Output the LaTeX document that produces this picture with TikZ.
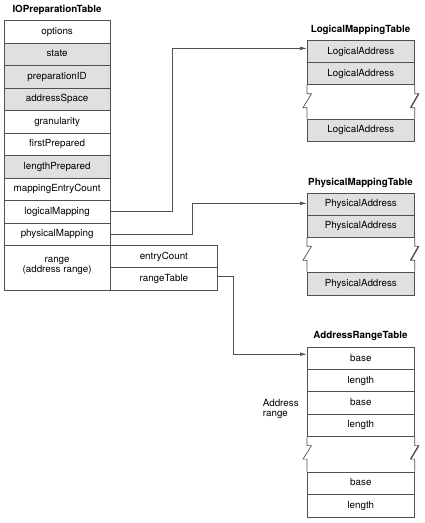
\documentclass[tikz,border=0pt]{standalone}
\usepackage{fontspec}
\setmainfont{TeX Gyre Heros}
\usetikzlibrary{arrows.meta}
\definecolor{linec}{HTML}{505050}
\definecolor{cellgray}{HTML}{E0E0E0}
\tikzset{
  txt/.style={font=\fontsize{9.8}{10}\selectfont},
  cell/.style={txt, draw=linec, line width=0.7pt, inner sep=0pt, anchor=north west,
               text height=7pt, text depth=1.4pt},
  gcell/.style={cell, fill=cellgray},
  leftrow/.style={cell, minimum width=106.5pt, minimum height=22.5pt},
  gleftrow/.style={leftrow, fill=cellgray},
  subrow/.style={cell, minimum width=107pt},
  rrow/.style={cell, minimum width=107pt},
  grrow/.style={rrow, fill=cellgray},
  title/.style={font=\fontsize{9.8}{10}\selectfont\bfseries, inner sep=0pt, anchor=base},
  edge/.style={draw=linec, line width=0.7pt},
  conn/.style={draw=linec, line width=0.7pt, -{Latex[length=7pt,width=3.6pt]}},
}
\begin{document}
\begin{tikzpicture}[x=1pt,y=-1pt]
\useasboundingbox (0,0) rectangle (425,523);

% ---------------- IOPreparationTable ----------------
\node[title] (t0) at (57,12.7) {IOPreparationTable};
\node[leftrow]  (r1)  at (3.5,20)    {options};
\node[gleftrow] (r2)  at (3.5,42.5)  {state};
\node[gleftrow] (r3)  at (3.5,65)    {preparationID};
\node[gleftrow] (r4)  at (3.5,87.5)  {addressSpace};
\node[leftrow]  (r5)  at (3.5,110)   {granularity};
\node[leftrow]  (r6)  at (3.5,132.5) {firstPrepared};
\node[gleftrow] (r7)  at (3.5,155)   {lengthPrepared};
\node[leftrow]  (r8)  at (3.5,177.5) {mappingEntryCount};
\node[leftrow]  (lm)  at (3.5,200)   {logicalMapping};
\node[leftrow]  (pm)  at (3.5,222.5) {physicalMapping};
\node[txt, draw=linec, line width=0.7pt, inner sep=0pt, anchor=north west,
      minimum width=106.5pt, minimum height=44.5pt, align=center] (rg) at (3.5,245) {};
\node[txt, align=center, inner sep=0pt] (rgl) at ([yshift=1.5pt]rg.center) {range\\(address range)};
\node[subrow, minimum height=22pt]   (ec) at (110,245) {entryCount};
\node[subrow, minimum height=22.5pt] (rt) at (110,267) {rangeTable};

% ---------------- LogicalMappingTable ----------------
\node[title] (t1) at (360.5,32.5) {LogicalMappingTable};
\node[grrow, minimum height=22pt]   (l1) at (307,40)    {LogicalAddress};
\node[grrow, minimum height=22pt]   (l2) at (307,62)    {LogicalAddress};
\node[grrow, minimum height=22.5pt] (l3) at (307,118.5) {LogicalAddress};
\draw[edge] (l2.south west) -- ++(0,9) -- ++(4.5,0) -- ++(-8.5,14) -- ++(4,0) -- (l3.north west);
\draw[edge] (l2.south east) -- ++(0,9) -- ++(4,0) -- ++(-8,14) -- ++(4,0) -- (l3.north east);
\draw[draw=linec, line width=1.3pt] ([shift={(4,9)}]l2.south east) -- ++(-8,14);

% ---------------- PhysicalMappingTable ----------------
\node[title] (t2) at (360.5,185.5) {PhysicalMappingTable};
\node[grrow, minimum height=22pt] (p1) at (307,192.5) {PhysicalAddress};
\node[grrow, minimum height=22pt] (p2) at (307,214.5) {PhysicalAddress};
\node[grrow, minimum height=23pt] (p3) at (307,271.5) {PhysicalAddress};
\draw[edge] (p2.south west) -- ++(0,9) -- ++(4.5,0) -- ++(-8.5,14) -- ++(4,0) -- (p3.north west);
\draw[edge] (p2.south east) -- ++(0,9) -- ++(4,0) -- ++(-8,14) -- ++(4,0) -- (p3.north east);
\draw[draw=linec, line width=1.3pt] ([shift={(4,9)}]p2.south east) -- ++(-8,14);

% ---------------- AddressRangeTable ----------------
\node[title] (t3) at (360.5,338.5) {AddressRangeTable};
\node[rrow, minimum height=22.3pt] (a1) at (307,346.7) {base};
\node[rrow, minimum height=22.3pt] (a2) at (307,369)   {length};
\node[rrow, minimum height=22.3pt] (a3) at (307,391.3) {base};
\node[rrow, minimum height=22.3pt] (a4) at (307,413.6) {length};
\node[rrow, minimum height=22pt]   (a5) at (307,471.5) {base};
\node[rrow, minimum height=23pt]   (a6) at (307,493.5) {length};
\draw[draw=linec, line width=1.2pt] (a5.south west) -- (a5.south east);
\draw[edge] (a4.south west) -- ++(0,9) -- ++(4.5,0) -- ++(-8.5,13.5) -- ++(4,0) -- (a5.north west);
\draw[edge] (a4.south east) -- ++(0,9) -- ++(4,0) -- ++(-8,13.5) -- ++(4,0) -- (a5.north east);
\draw[draw=linec, line width=1.3pt] ([shift={(4,9)}]a4.south east) -- ++(-8,13.5);
\node[txt, align=left, inner sep=0pt, anchor=west] (arl) at (262.7,408.7) {Address\\range};

% ---------------- connectors ----------------
\draw[conn] (lm.east) -- ++(62,0) |- ([yshift=3pt]l1.west);
\draw[conn] (pm.east) -- ++(82,0) |- ([yshift=0.5pt]p1.west);
\draw[conn] ([yshift=2pt]rt.east) -- ++(16,0) |- ([yshift=4pt]a1.west);
\end{tikzpicture}
\end{document}
